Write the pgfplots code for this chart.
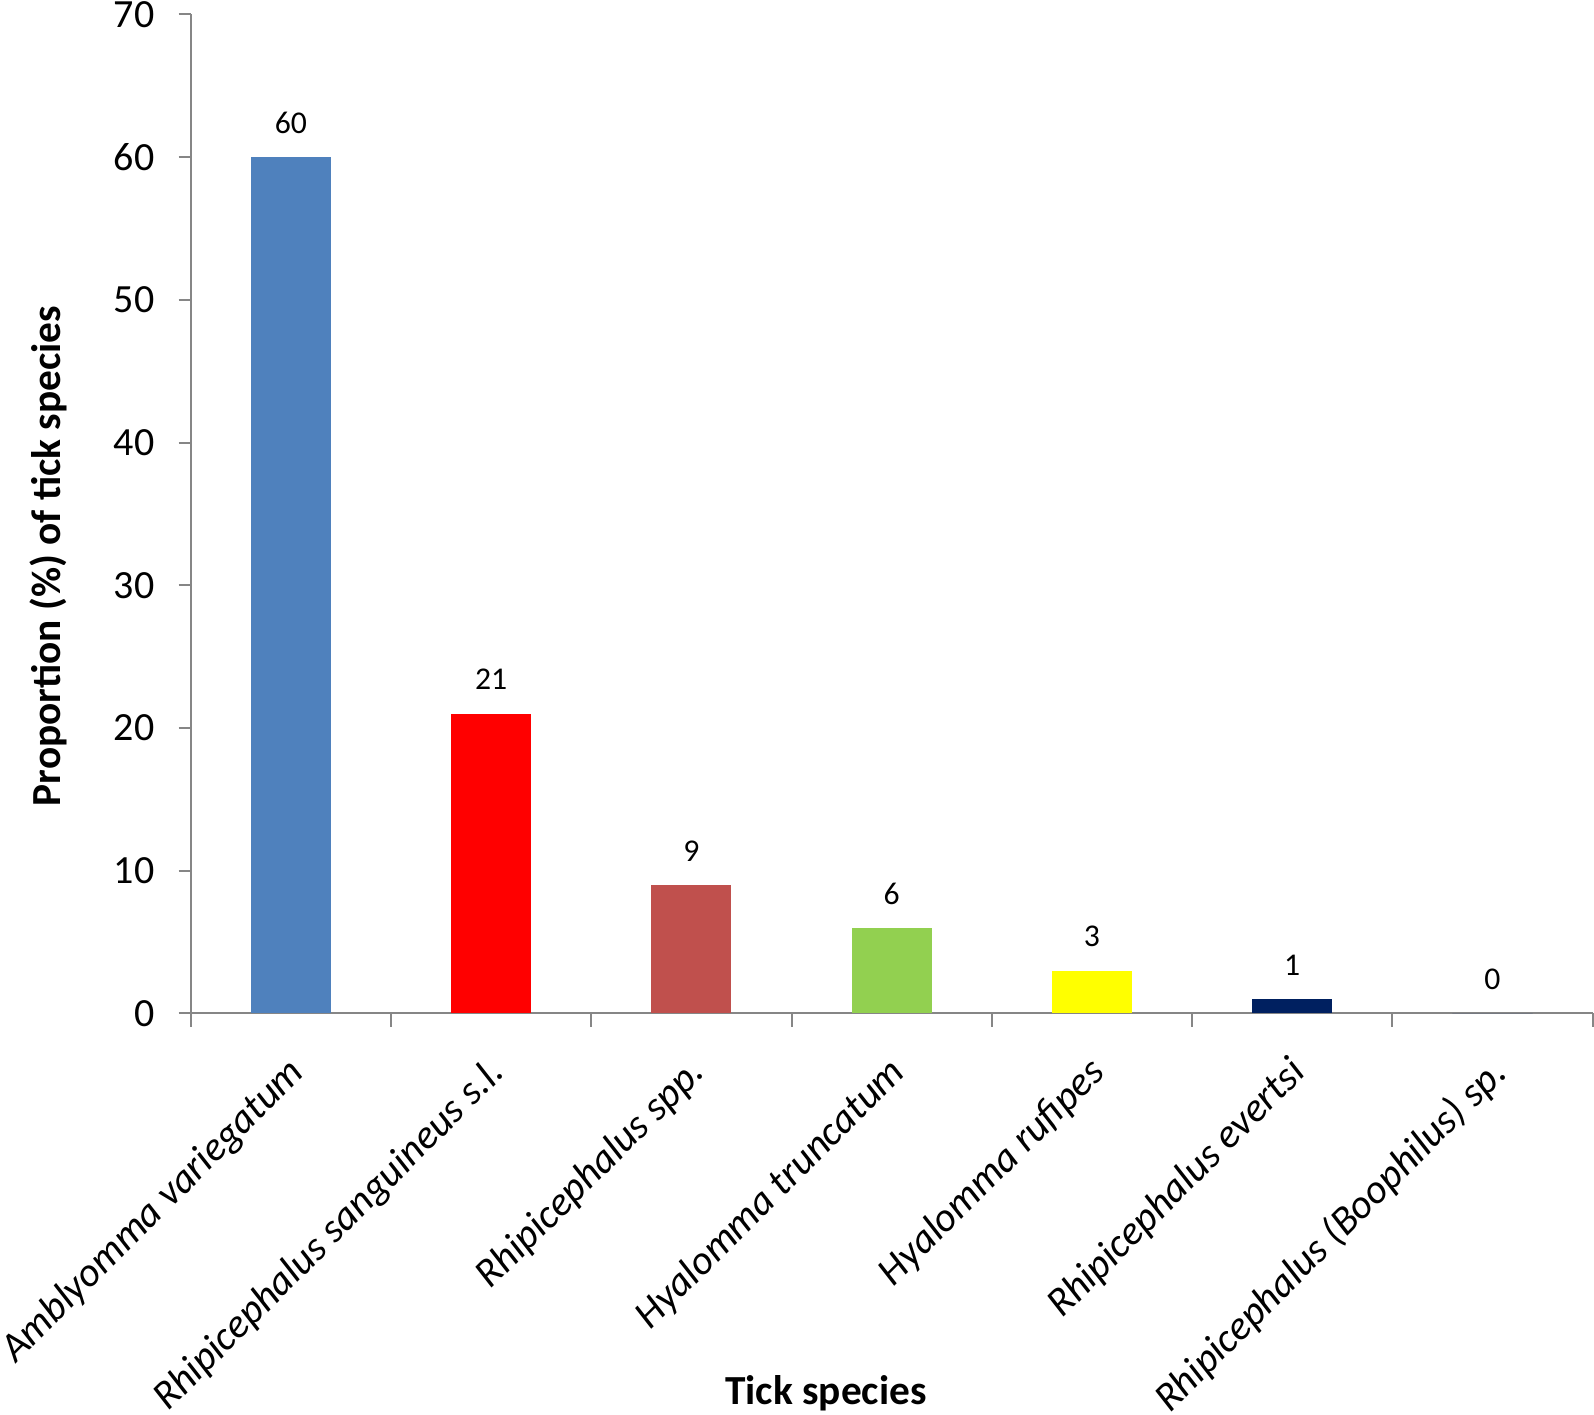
\documentclass[border=0pt]{standalone}
\usepackage{fontspec}
\setmainfont{Carlito}
\usepackage{pgfplots}
\pgfplotsset{compat=1.18}
\definecolor{axgray}{HTML}{868686}
\definecolor{cblue}{HTML}{4F81BD}
\definecolor{cred}{HTML}{FF0000}
\definecolor{cbrick}{HTML}{C0504D}
\definecolor{cgreen}{HTML}{92D050}
\definecolor{cyellow}{HTML}{FFFF00}
\definecolor{cnavy}{HTML}{002060}
\begin{document}
\begin{tikzpicture}
\begin{axis}[
  scale only axis,
  width=420.6pt, height=299.7pt,
  xmin=-0.5, xmax=6.5, ymin=0, ymax=70,
  axis x line*=bottom, axis y line*=left,
  axis line style={axgray, line width=0.6pt},
  tick align=outside,
  major tick length=3.6pt,
  /pgf/number format/assume math mode=true,
  ytick={0,10,...,70},
  ytick style={axgray, line width=0.6pt},
  yticklabel style={font=\fontsize{12}{14}\selectfont, xshift=-3.75pt},
  xtick={0,...,6},
  xtick style={draw=none},
  xticklabels={{Amblyomma variegatum},{Rhipicephalus sanguineus s.l.},{Rhipicephalus spp.},{Hyalomma truncatum},{Hyalomma rufipes},{Rhipicephalus evertsi},{Rhipicephalus (Boophilus) sp.}},
  xticklabel style={font=\itshape\fontsize{12.2}{14}\selectfont, xshift=-1.5pt, yshift=-8.4pt, rotate=45, anchor=north east, inner sep=0pt},
  extra x ticks={-0.5,0.5,...,6.5},
  extra x tick labels={},
  extra x tick style={xtick style={draw=axgray, line width=0.6pt}, major tick length=4pt},
  xlabel={Tick species},
  ylabel={Proportion (\%) of tick species},
  xlabel style={at={(axis description cs:0.4531,-0.380)}, anchor=center, font=\bfseries\fontsize{12.4}{14}\selectfont},
  ylabel style={at={(axis description cs:-0.1018,0.4578)}, anchor=center, font=\bfseries\fontsize{12.4}{14}\selectfont},
  every node near coord/.append style={font=\fontsize{9.5}{11}\selectfont, anchor=center, yshift=10.2pt, text=black},
  clip=false,
]
\addplot[ybar, bar width=0.4, fill=cblue, draw=none, nodes near coords] coordinates {(0,60)};
\addplot[ybar, bar width=0.4, fill=cred, draw=none, nodes near coords] coordinates {(1,21)};
\addplot[ybar, bar width=0.4, fill=cbrick, draw=none, nodes near coords] coordinates {(2,9)};
\addplot[ybar, bar width=0.4, fill=cgreen, draw=none, nodes near coords] coordinates {(3,6)};
\addplot[ybar, bar width=0.4, fill=cyellow, draw=none, nodes near coords] coordinates {(4,3)};
\addplot[ybar, bar width=0.4, fill=cnavy, draw=none, nodes near coords] coordinates {(5,1)};
\addplot[ybar, bar width=0.4, fill=cnavy, draw=none, nodes near coords] coordinates {(6,0)};
\coordinate (O) at (rel axis cs:0,0);
\end{axis}
\pgfresetboundingbox
\path ([shift={(-57.2pt,-120.2pt)}]O) rectangle ([shift={(421pt,304pt)}]O);
\end{tikzpicture}
\end{document}
